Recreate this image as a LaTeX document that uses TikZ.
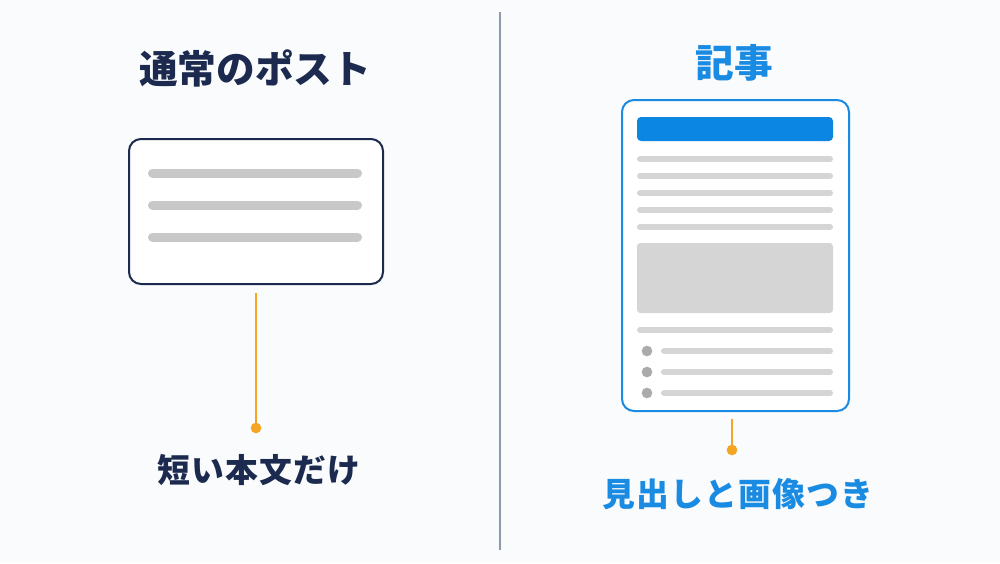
\documentclass[tikz,border=0pt]{standalone}
\usepackage{fontspec}
\newfontfamily\jpfont{Noto Sans CJK JP}
\newfontfamily\jpwide{Noto Sans CJK JP}[LetterSpace=4]
\definecolor{bgpaper}{HTML}{FAFBFC}
\definecolor{navy}{HTML}{1B2A4E}
\definecolor{skyblue}{HTML}{1A8BE3}
\definecolor{barblue}{HTML}{0B87E3}
\definecolor{lightgray}{HTML}{C8C8C8}
\definecolor{blockgray}{HTML}{D5D5D5}
\definecolor{dotgray}{HTML}{ABABAB}
\definecolor{accent}{HTML}{F5A524}
\definecolor{divider}{HTML}{8E9AAB}
\tikzset{
  title/.style={font=\jpfont\bfseries\fontsize{33pt}{38pt}\selectfont},
  caption/.style={font=\jpwide\bfseries\fontsize{28pt}{32pt}\selectfont},
  textline/.style={line cap=round, color=lightgray},
  pin/.style={circle, fill=accent, inner sep=0pt, minimum size=3.2mm}
}

\begin{document}
\begin{tikzpicture}[x=0.3mm, y=-0.3mm]
	\useasboundingbox[fill=bgpaper] (0,0) rectangle (1000,563);
	\draw[color=divider, line width=0.45mm] (500,12) -- (500,550);
	% left: normal post
	\begin{scope}
		\node[title, text=navy] (posttitle) at (255,68) {通常のポスト};
		\node[draw=navy, fill=white, line width=0.6mm, rounded corners=3.6mm,
		      minimum width=76.2mm, minimum height=43.5mm] (post) at (256,211.5) {};
		\foreach \y in {173,205,237}
			\draw[textline, line width=2.7mm] (152.5,\y) -- (357.5,\y);
		\node[pin] (postpin) at (256,428) {};
		\draw[color=accent, line width=0.5mm, shorten <=2.4mm] (post.south) -- (postpin.center);
		\node[caption, text=navy] (postlabel) at (259,470) {短い本文だけ};
	\end{scope}
	% right: article
	\begin{scope}
		\node[title, text=skyblue] (arttitle) at (734,63) {記事};
		\node[draw=skyblue, fill=white, line width=0.6mm, rounded corners=3.6mm,
		      minimum width=68.1mm, minimum height=93.3mm] (article) at (735.5,255.5) {};
		\fill[barblue, rounded corners=1.2mm] (637,117) rectangle (833,141);
		\foreach \y in {159,176,193,210,227,330}
			\draw[textline, color=blockgray, line width=1.8mm] (640,\y) -- (830,\y);
		\fill[blockgray, rounded corners=1mm] (637,243) rectangle (833,313);
		\foreach \y in {351,372,393} {
			\fill[dotgray] (647,\y) circle (1.6mm);
			\draw[textline, color=blockgray, line width=1.8mm] (664,\y) -- (830,\y);
		}
		\node[pin] (artpin) at (732,450) {};
		\draw[color=accent, line width=0.5mm, shorten <=2.1mm] (article.south -| artpin) -- (artpin.center);
		\node[caption, text=skyblue] (artlabel) at (738,494) {見出しと画像つき};
	\end{scope}
\end{tikzpicture}
\end{document}
